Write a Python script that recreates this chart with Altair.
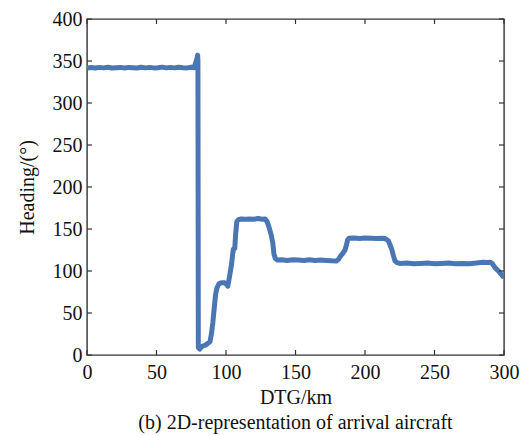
import altair as alt
import pandas as pd

# Heading trace of the arrival aircraft against distance to go
dtg_km = [
    0, 3, 6, 9, 12, 15, 18, 21, 24, 27, 30, 33, 36, 39, 42, 45, 48, 51, 54, 57,
    60, 63, 66, 69, 72, 75, 77, 78, 79, 79.6, 79.8, 80.1,
    81, 82.5, 84, 85.5, 87, 88.5, 89.5, 90.5, 91.5, 92.5, 93.5, 95, 97, 99,
    100.5, 101.3, 102.2, 103, 104, 104.8, 105.3, 106.3, 107, 107.8, 109, 111,
    114, 117, 120, 123, 126, 128.2, 129.5, 131, 132.5, 133.7, 134.5, 135.5,
    137, 140, 144, 148, 152, 156, 160, 164, 168, 172, 176, 179.6, 181, 182.5,
    184, 185.6, 186.5, 187.5, 188.5, 192, 196, 200, 204, 208, 212, 214.4,
    216.8, 219.2, 220.5, 221.6, 223, 225, 230, 235, 240, 245, 250, 255, 260,
    265, 270, 275, 280, 285, 288, 290, 291.5, 293.5, 296, 298, 300,
]
heading_deg = [
    341.8, 342.3, 341.6, 342.4, 341.8, 342.6, 341.7, 342.1, 342.4, 341.6, 342.4, 342,
    341.6, 342.6, 341.8, 342.4, 341.8, 342, 342.7, 341.8, 342.4, 341.8, 342.6, 342,
    341.8, 342.6, 342, 347, 352, 357, 350, 9,
    7, 10, 11, 12, 14, 16, 25, 38, 55, 72, 80, 85, 86, 86,
    84, 82, 90, 98, 108, 120, 126, 127, 145, 159, 161, 162,
    161.6, 162, 161.6, 162.4, 161.6, 162, 159, 152, 143, 133, 120, 115,
    113, 113.4, 112.6, 113.4, 113, 112.6, 113.4, 112.6, 113, 112.6, 112.2, 112,
    114, 118, 121, 125, 130, 137, 139, 139.4, 138.6, 139.4, 139, 138.6, 139,
    138.6, 136, 126, 118, 112, 110, 109, 109.4, 108.6, 109, 109.4, 108.6, 109,
    109.4, 108.6, 109, 108.6, 109.4, 110.4, 110, 110.4, 109, 104, 100, 96, 92,
]
x_ticks = [0, 50, 100, 150, 200, 250, 300]
y_ticks = [0, 50, 100, 150, 200, 250, 300, 350, 400]

W, H = 417, 336
FONT = "Liberation Serif"
TICK = 5

trace = pd.DataFrame({"dtg": dtg_km, "heading": heading_deg})
xt = pd.DataFrame({"dtg": x_ticks})
yt = pd.DataFrame({"heading": y_ticks})

x_enc = alt.X("dtg:Q", scale=alt.Scale(domain=[0, 300], nice=False, zero=False),
              axis=alt.Axis(values=x_ticks, title="DTG/km", ticks=False, domain=False,
                            grid=False, labelFlush=False, labelPadding=7, titlePadding=5))
y_enc = alt.Y("heading:Q", scale=alt.Scale(domain=[0, 400], nice=False),
              axis=alt.Axis(values=y_ticks, title="Heading/(°)", ticks=False, domain=False,
                            grid=False, labelFlush=False, labelPadding=5, titlePadding=15))

line = alt.Chart(trace).mark_line(
    color="#4a77b4", strokeWidth=5, clip=True, strokeJoin="round"
).encode(x=x_enc, y=y_enc)

# inward tick marks on all four sides of the frame
tick_style = dict(color="#333333", strokeWidth=1.2)
bottom = alt.Chart(xt).mark_rule(**tick_style).encode(
    x=x_enc, y=alt.value(H), y2=alt.value(H - TICK))
top = alt.Chart(xt).mark_rule(**tick_style).encode(
    x=x_enc, y=alt.value(0), y2=alt.value(TICK))
left = alt.Chart(yt).mark_rule(**tick_style).encode(
    y=y_enc, x=alt.value(0), x2=alt.value(TICK))
right = alt.Chart(yt).mark_rule(**tick_style).encode(
    y=y_enc, x=alt.value(W), x2=alt.value(W - TICK))

chart = alt.layer(line, bottom, top, left, right).properties(
    width=W, height=H,
    autosize=alt.AutoSizeParams(type="none"),
    padding={"left": 87, "top": 19, "right": 527 - 87 - W, "bottom": 436 - 19 - H},
    title=alt.TitleParams(
        "(b) 2D-representation of arrival aircraft", orient="bottom",
        font=FONT, fontSize=20, fontWeight="normal", color="#111111", offset=6,
    ),
).configure_view(
    stroke="#333333", strokeWidth=1.4
).configure_axis(
    labelFont=FONT, titleFont=FONT, labelFontSize=20, titleFontSize=20,
    labelColor="#111111", titleColor="#111111", titleFontWeight="normal",
)

chart.save("out.html", embed_options={"renderer": "svg", "actions": False})
